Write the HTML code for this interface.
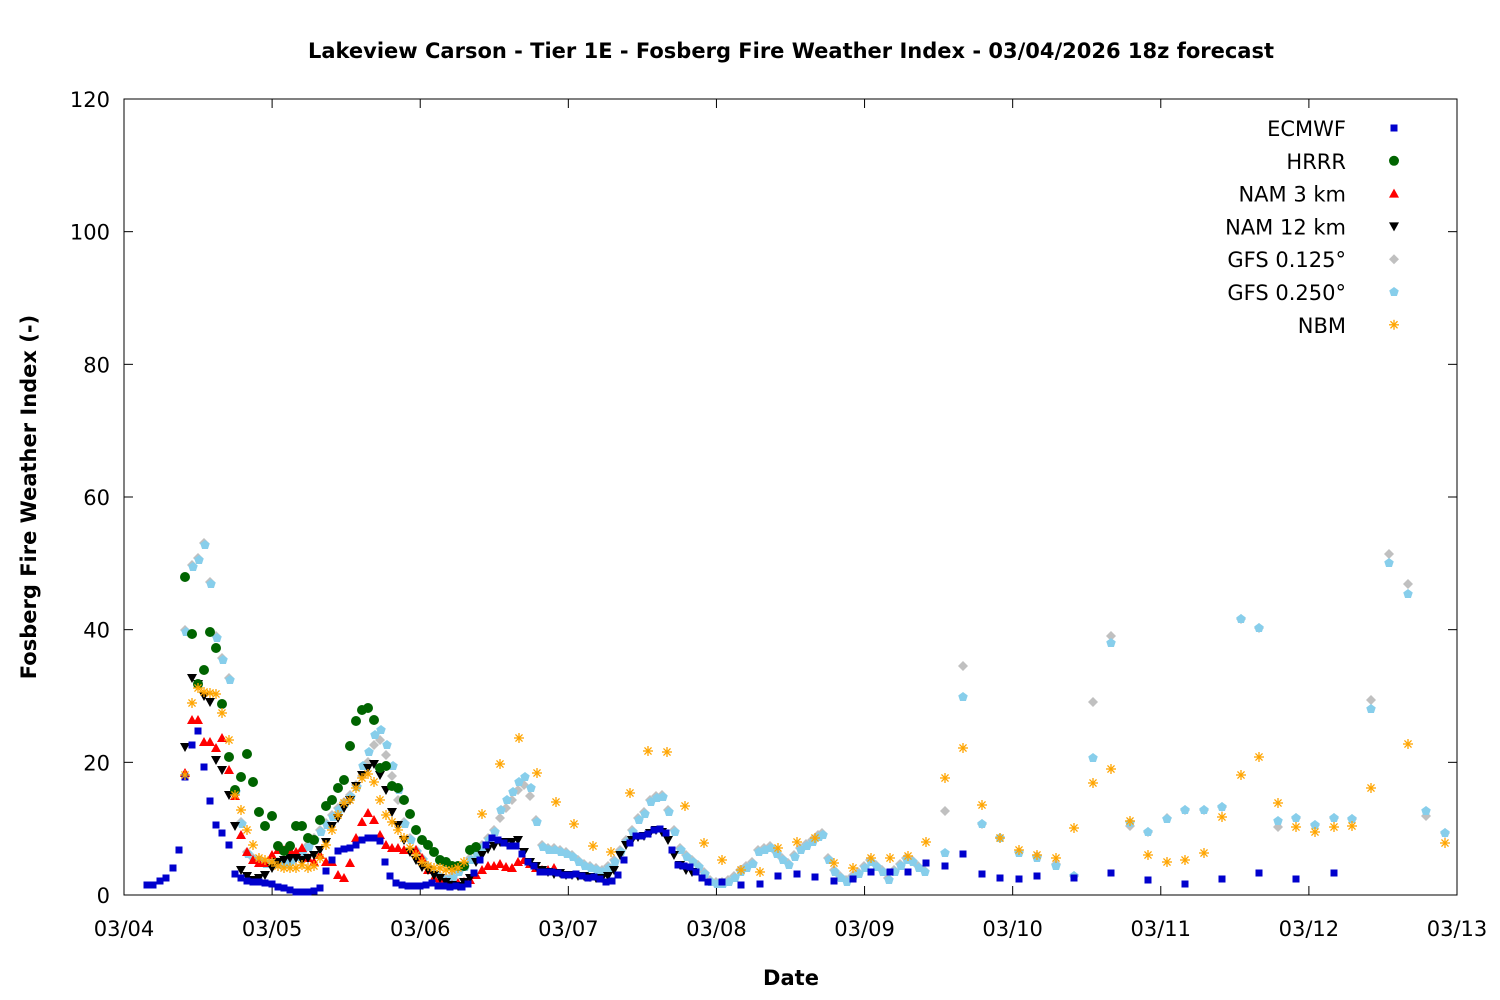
<!DOCTYPE html>
<html><head><meta charset="utf-8">
<style>
html,body{margin:0;padding:0;background:#fff;}
svg{display:block;font-family:"DejaVu Sans","Liberation Sans",sans-serif;}
</style></head>
<body>
<svg id="s" width="1500" height="1000" xmlns="http://www.w3.org/2000/svg">
<rect width="1500" height="1000" fill="#fff"/>
<text x="791" y="58" text-anchor="middle" font-size="21" font-weight="bold">Lakeview Carson - Tier 1E - Fosberg Fire Weather Index - 03/04/2026 18z forecast</text>
<text x="791" y="985" text-anchor="middle" font-size="21" font-weight="bold">Date</text>
<text transform="translate(36,497) rotate(-90)" text-anchor="middle" font-size="21" font-weight="bold">Fosberg Fire Weather Index (-)</text>
<rect x="124" y="99" width="1333" height="796" fill="none" stroke="#000" stroke-width="1"/>
<g id="ax"></g>
<g id="pts"></g>
</svg>
<script>
var NS="http://www.w3.org/2000/svg";
var ax=document.getElementById('ax'),P=document.getElementById('pts');
function el(t,a,p){var e=document.createElementNS(NS,t);for(var k in a)e.setAttribute(k,a[k]);(p||P).appendChild(e);return e;}
for(var i=0;i<=6;i++){var y=895-i*796/6;
 el('line',{x1:124,y1:y,x2:133,y2:y,stroke:'#000'},ax);el('line',{x1:1457,y1:y,x2:1448,y2:y,stroke:'#000'},ax);
 var t=el('text',{x:110,y:y+8,'text-anchor':'end','font-size':21},ax);t.textContent=i*20;}
for(var d=0;d<=9;d++){var x=124+d*1333/9;
 el('line',{x1:x,y1:895,x2:x,y2:886,stroke:'#000'},ax);el('line',{x1:x,y1:99,x2:x,y2:108,stroke:'#000'},ax);
 var t=el('text',{x:x,y:936,'text-anchor':'middle','font-size':21},ax);t.textContent='03/'+(d+4<10?'0':'')+(d+4);}
function sq(x,y,c){el('rect',{x:x-3.5,y:y-3.5,width:7,height:7,fill:c});}
function ci(x,y,c){el('circle',{cx:x,cy:y,r:5,fill:c});}
function tu(x,y,c){el('polygon',{points:(x-5)+','+(y+4)+' '+(x+5)+','+(y+4)+' '+x+','+(y-5),fill:c});}
function td(x,y,c){el('polygon',{points:(x-5)+','+(y-4)+' '+(x+5)+','+(y-4)+' '+x+','+(y+5),fill:c});}
function di(x,y,c){el('polygon',{points:x+','+(y-5)+' '+(x+5)+','+y+' '+x+','+(y+5)+' '+(x-5)+','+y,fill:c});}
function pe(x,y,c){var p=[];for(var k=0;k<5;k++){var a=-Math.PI/2+k*2*Math.PI/5;p.push((x+5*Math.cos(a))+','+(y+5*Math.sin(a)));}el('polygon',{points:p.join(' '),fill:c});}
function st(x,y,c){var g='stroke:'+c+';stroke-width:1.3';for(var k=0;k<4;k++){var a=k*Math.PI/4;el('line',{x1:x-5*Math.cos(a),y1:y-5*Math.sin(a),x2:x+5*Math.cos(a),y2:y+5*Math.sin(a),style:g});}}
function plot(a,f,c){for(var i=0;i<a.length;i+=2)f(a[i],a[i+1],c);}
var gray=[185,630,192,565,198,558,204,543,210,582,216,636,222,658,229,678,235,790,241,822,247,852,253,858,259,860,265,862,272,862,278,862,284,862,290,860,296,855,302,850,308,845,314,838,320,830,326,823,332,815,338,808,344,802,350,795,356,785,362,776,368,762,374,745,380,740,386,755,392,776,398,800,404,822,410,838,416,850,422,858,428,866,434,872,440,876,446,878,452,876,458,870,464,865,470,858,476,852,482,845,488,838,494,830,500,818,506,808,512,800,518,790,524,785,530,796,536,820,542,845,548,848,554,848,560,850,566,852,572,855,578,860,584,864,590,866,596,868,602,870,608,866,614,860,620,850,626,840,632,830,638,818,644,812,650,800,656,796,662,795,668,810,674,830,680,848,686,855,692,860,698,865,704,872,710,880,716,882,722,882,728,880,734,876,740,870,746,866,752,862,758,850,764,848,770,846,776,852,782,858,788,863,794,855,800,848,806,844,812,840,818,835,822,833,828,858,834,870,840,876,846,880,852,876,858,872,864,866,870,860,876,865,882,870,888,878,894,870,900,864,906,858,912,860,918,866,924,870,945,811,963,666,982,824,1000,838,1019,852,1037,856,1056,864,1074,876,1093,702,1111,636,1130,826,1148,832,1167,818,1185,810,1204,810,1222,807,1241,619,1259,628,1278,827,1296,818,1315,825,1334,818,1352,819,1371,700,1389,554,1408,584,1426,816,1445,833];
var cyan=[];for(var i=0;i<gray.length;i+=2){var x=gray[i],y=gray[i+1];if(x>=945)continue;var dy=0;if(x>=360&&x<=400)dy=-12;if(x>=500&&x<=530)dy=-10;cyan.push(x+1,y+2+dy);}
cyan=cyan.concat([945,853,963,697,982,824,1000,838,1019,853,1037,858,1056,866,1074,876,1093,758,1111,643,1130,823,1148,832,1167,819,1185,810,1204,810,1222,807,1241,619,1259,628,1278,821,1296,818,1315,825,1334,818,1352,819,1371,709,1389,563,1408,594,1426,811,1445,833]);
plot(gray,di,'#c0c0c0');
plot(cyan,pe,'#87ceeb');
plot([185,773,192,720,198,720,204,742,210,742,216,748,222,738,229,770,235,796,241,835,247,852,253,860,259,863,265,863,272,855,278,850,284,850,290,850,296,852,302,848,308,858,314,862,320,855,326,862,332,862,338,875,344,878,350,863,356,838,362,822,368,813,374,820,380,835,386,845,392,848,398,848,404,850,410,850,416,850,422,858,428,870,434,878,440,880,446,882,452,885,458,883,464,882,470,880,476,875,482,870,488,866,494,866,500,864,506,867,512,868,518,862,524,860,530,864,536,868,542,870,548,870,554,868],tu,'#ff0000');
plot([185,747,192,678,198,684,204,696,210,702,216,760,222,770,229,795,235,826,241,870,247,876,253,880,259,878,265,875,272,868,278,862,284,860,290,858,296,858,302,860,308,858,314,855,320,850,326,842,332,826,338,818,344,808,350,800,356,786,362,775,368,768,374,764,380,775,386,790,392,812,398,825,404,840,410,852,416,860,422,867,428,870,434,875,440,878,446,882,452,885,458,886,464,882,470,878,476,862,482,855,488,849,494,846,500,842,506,842,512,842,518,840,524,852,530,862,536,866,542,870,548,872,554,874,560,873,566,875,572,875,578,876,584,876,590,877,596,878,602,878,608,876,614,870,620,855,626,845,632,840,638,837,644,836,650,833,656,830,662,832,668,840,674,855,680,865,686,870,692,872],td,'#000');
plot([185,577,192,634,198,684,204,670,210,632,216,648,222,704,229,757,235,790,241,777,247,754,253,782,259,812,265,826,272,816,278,846,284,851,290,846,296,826,302,826,308,838,314,840,320,820,326,806,332,800,338,788,344,780,350,746,356,721,362,710,368,708,374,720,380,768,386,766,392,786,398,788,404,800,410,814,416,830,422,840,428,845,434,852,440,860,446,862,452,866,458,866,464,866,470,850,476,847],ci,'#006400');
plot([147,885,153,885,160,881,166,878,173,868,179,850,185,777,192,745,198,731,204,767,210,801,216,825,222,833,229,845,235,874,241,878,247,881,253,882,259,882,265,883,272,884,278,887,284,888,290,890,296,892,302,892,308,892,314,891,320,888,326,871,332,860,338,851,344,849,350,848,356,845,362,840,368,838,374,838,380,841,385,862,390,876,396,883,402,885,408,886,414,886,420,886,426,885,432,883,438,886,444,886,450,887,456,886,462,887,468,884,474,873,480,860,486,845,492,838,498,840,504,843,510,846,516,846,522,854,528,862,534,866,540,872,546,872,552,872,558,873,564,875,570,875,576,874,582,876,588,878,594,877,600,879,606,882,612,881,618,875,624,860,630,843,636,836,642,836,648,834,654,830,660,829,666,833,672,850,678,865,684,866,690,867,696,872,702,878,708,882,722,882,741,885,760,884,778,876,797,874,815,877,834,881,853,879,871,872,890,872,908,872,926,863,945,866,963,854,982,874,1000,878,1019,879,1037,876,1074,878,1111,873,1148,880,1185,884,1222,879,1259,873,1296,879,1334,873],sq,'#0000cd');
plot([185,775,192,703,198,688,204,692,210,693,216,694,222,713,229,740,235,795,241,810,247,830,253,845,259,858,265,860,272,862,278,866,284,868,290,868,296,868,302,865,308,868,314,866,320,858,326,845,332,830,338,815,344,803,350,800,356,788,362,778,368,774,374,782,380,800,386,815,392,822,398,830,404,838,410,848,416,855,422,862,428,866,434,868,440,868,446,870,452,870,458,868,464,862,482,814,500,764,519,738,537,773,556,802,574,824,593,846,611,852,630,793,648,751,667,752,685,806,704,843,722,860,741,870,760,872,778,848,797,842,815,838,834,863,853,868,871,858,890,858,908,856,926,842,945,778,963,748,982,805,1000,838,1019,850,1037,855,1056,858,1074,828,1093,783,1111,769,1130,821,1148,855,1167,862,1185,860,1204,853,1222,817,1241,775,1259,757,1278,803,1296,827,1315,832,1334,827,1352,826,1371,788,1408,744,1445,843],st,'#ffa500');
var L=[['ECMWF',sq,'#0000cd'],['HRRR',ci,'#006400'],['NAM 3 km',tu,'#ff0000'],['NAM 12 km',td,'#000'],['GFS 0.125°',di,'#c0c0c0'],['GFS 0.250°',pe,'#87ceeb'],['NBM',st,'#ffa500']];
for(var i=0;i<L.length;i++){var y=128+i*32.8;var t=el('text',{x:1346,y:y+8,'text-anchor':'end','font-size':21});t.textContent=L[i][0];L[i][1](1394,y,L[i][2]);}
</script>
</body></html>
